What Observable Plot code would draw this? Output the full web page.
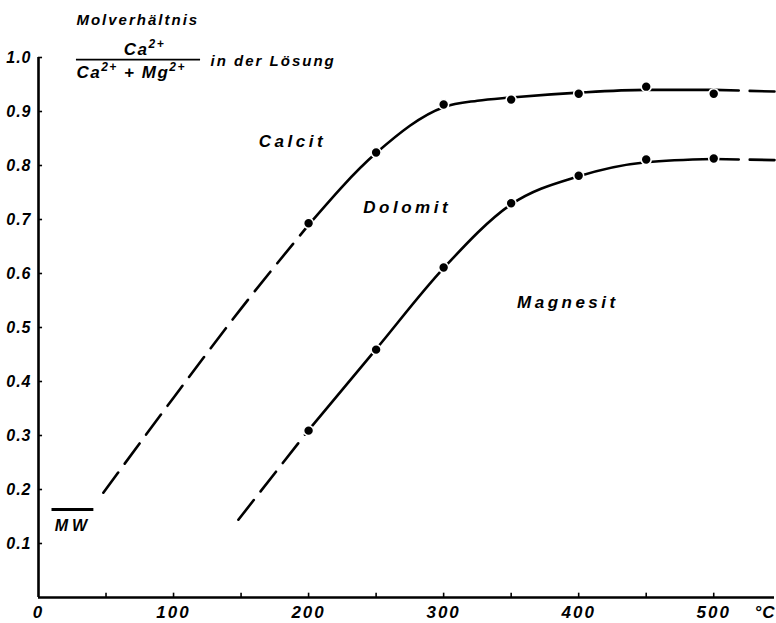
<!DOCTYPE html>
<html><head><meta charset="utf-8">
<script src="https://cdn.jsdelivr.net/npm/d3@7"></script>
<script src="https://cdn.jsdelivr.net/npm/@observablehq/plot@0.6"></script>
<style>
body{margin:0;background:#fff;}
#chart svg text{font-style:italic;font-weight:bold;}
#chart g[aria-label="x-axis tick label"] text{letter-spacing:2px;}
#chart g[aria-label="y-axis tick label"] text{letter-spacing:1px;}
</style></head><body><div id="chart"></div>
<script>
// measured points (temperature °C, molar ratio Ca/(Ca+Mg) in solution)
const temps = [200, 250, 300, 350, 400, 450, 500];
const calcitPoints = [0.693, 0.824, 0.913, 0.922, 0.933, 0.946, 0.933];
const dolomitPoints = [0.309, 0.459, 0.611, 0.730, 0.781, 0.811, 0.813];

// drawn boundary curves
const calcitCurveX = [48, 100, 150, 200, 250, 300, 325, 350, 400, 450, 500, 545];
const calcitCurveY = [0.194, 0.37, 0.535, 0.69, 0.823, 0.908, 0.920, 0.926, 0.935, 0.940, 0.940, 0.937];
const dolomitCurveX = [148, 200, 250, 300, 350, 400, 450, 500, 545];
const dolomitCurveY = [0.144, 0.31, 0.46, 0.61, 0.728, 0.78, 0.806, 0.812, 0.810];

// sea water (MW) level
const mwValue = 0.163;
const mwRange = [10, 41];
const mwLabel = "MW";

// field labels
const fieldNames = ["Calcit", "Dolomit", "Magnesit"];
const fieldX = [188, 273, 392];
const fieldY = [0.844, 0.722, 0.546];

// axes
const xLabelTicks = [0, 100, 200, 300, 400, 500];
const xMarkTicks = [50, 100, 150, 200, 250, 300, 350, 400, 450, 500];
const yTicks = [0.1, 0.2, 0.3, 0.4, 0.5, 0.6, 0.7, 0.8, 0.9, 1.0];
const xUnit = "°C";
const xUnitPos = 538;
const xMax = 545;

// y title (ratio)
const titleTop = "Molverhältnis";
const titleNum = "Ca²⁺";
const titleDen = "Ca²⁺ + Mg²⁺";
const titleTail = "in der Lösung";

const pts = (xs, ys) => xs.map((x, i) => ({x, y: ys[i]}));
const calcitCurve = pts(calcitCurveX, calcitCurveY);
const dolomitCurve = pts(dolomitCurveX, dolomitCurveY);
const lo = d3.min(temps), hi = d3.max(temps);
const parts = c => ({
  before: c.filter(d => d.x <= lo),
  mid: c.filter(d => d.x >= lo && d.x <= hi),
  after: c.filter(d => d.x >= hi)
});
const curves = [parts(calcitCurve), parts(dolomitCurve)];
const dots = [...pts(temps, calcitPoints), ...pts(temps, dolomitPoints)];
const fields = fieldNames.map((t, i) => ({t, x: fieldX[i], y: fieldY[i]}));

const dash = "25,11";
const lw = 2.6;
const tickLenX = 3;      // in x units (~4px)
const tickLenY = 0.008;  // in y units (~4px)
const marks = [];
for (const c of curves) {
  marks.push(Plot.line(c.before, {x: "x", y: "y", curve: "monotone-x", strokeWidth: lw, strokeDasharray: dash}));
  marks.push(Plot.line(c.mid, {x: "x", y: "y", curve: "monotone-x", strokeWidth: lw}));
  marks.push(Plot.line(c.after, {x: "x", y: "y", curve: "monotone-x", strokeWidth: lw, strokeDasharray: dash}));
}

const chart = Plot.plot({
  width: 776,
  height: 623,
  marginLeft: 38,
  marginRight: 2,
  marginTop: 57,
  marginBottom: 26,
  style: {fontFamily: "'Liberation Sans', Arial, sans-serif", fontSize: "15px", color: "black", background: "white"},
  x: {domain: [0, xMax]},
  y: {domain: [0, 1]},
  marks: [
    Plot.ruleY(yTicks, {x1: 0, x2: tickLenX, strokeWidth: 1.6}),
    Plot.ruleX(xMarkTicks, {y1: 0, y2: tickLenY, strokeWidth: 1.6}),
    Plot.axisY({ticks: yTicks, tickSize: 0, tickPadding: 7, tickFormat: d3.format(".1f"), label: null, fontSize: 16}),
    Plot.axisX({ticks: xLabelTicks, tickSize: 0, tickPadding: 8, tickFormat: d => String(d), label: null, fontSize: 17}),
    Plot.text([xUnit], {x: xUnitPos, y: 0, dy: 8, lineAnchor: "top", fontSize: 17}),
    Plot.ruleX([0], {y1: 0, y2: 1, strokeWidth: 2.6}),
    Plot.ruleY([0], {x1: 0, x2: xMax, strokeWidth: 2.4}),
    ...marks,
    Plot.dot(dots, {x: "x", y: "y", r: 5, fill: "black", stroke: "white", strokeWidth: 1.6}),
    Plot.ruleY([mwValue], {x1: mwRange[0], x2: mwRange[1], strokeWidth: 3.2}),
    Plot.text([mwLabel], {x: (mwRange[0] + mwRange[1]) / 2, y: mwValue, dy: 10, lineAnchor: "top", fontSize: 16}),
    Plot.text(fields, {x: "x", y: "y", text: "t", fontSize: 17}),
    Plot.text([titleTop], {x: 28.1, y: 1.070, textAnchor: "start", fontSize: 15}),
    Plot.text([titleNum], {x: 78.5, y: 1.015, fontSize: 17}),
    Plot.ruleY([0.996], {x1: 28.1, x2: 120, strokeWidth: 1.8}),
    Plot.text([titleDen], {x: 28.1, y: 0.972, textAnchor: "start", fontSize: 17}),
    Plot.text([titleTail], {x: 127.4, y: 0.993, textAnchor: "start", fontSize: 15})
  ]
});

// letter spacing for the hand-lettered look, chosen by text content
const spacing = new Map([
  ...fieldNames.map(n => [n, "3.5px"]),
  [mwLabel, "4px"], [titleTop, "2px"], [titleTail, "2px"],
  [titleNum, "1.5px"], [titleDen, "1.5px"], [xUnit, "1px"]
]);
d3.select(chart).selectAll("text").each(function () {
  const t = this.textContent;
  if (spacing.has(t)) this.style.letterSpacing = spacing.get(t);
  // render the ²⁺ charges as raised, smaller tspans
  if (t === titleNum || t === titleDen) {
    const sel = d3.select(this);
    sel.text(null);
    const pieces = t.split(/([²⁺]+)/).filter(s => s.length);
    let raised = false;
    for (const p of pieces) {
      const sup = /[²⁺]/.test(p);
      const ts = sel.append("tspan");
      if (sup) {
        ts.text(p.replace(/²/g, "2").replace(/⁺/g, "+")).attr("font-size", 12).attr("dy", -7);
        raised = true;
      } else {
        ts.text(p);
        if (raised) { ts.attr("dy", 7); raised = false; }
      }
    }
  }
});

document.getElementById("chart").append(chart);
</script></body></html>
